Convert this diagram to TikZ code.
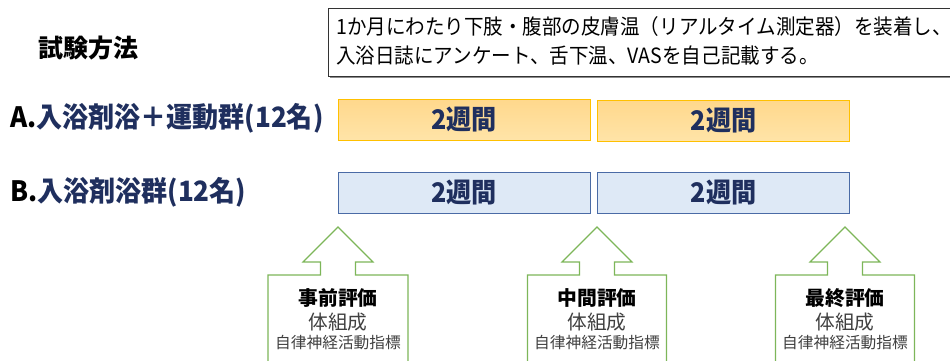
\documentclass[tikz,border=0pt]{standalone}
\usepackage{fontspec}
\setmainfont{Noto Sans CJK JP}
\newfontfamily\jpc[FakeStretch=0.93]{Noto Sans CJK JP}
\newfontfamily\jpcb[FakeStretch=0.93]{Noto Sans CJK JP}
\usetikzlibrary{positioning}
\definecolor{navy}{HTML}{1F2F5E}
\definecolor{orgline}{HTML}{FFC000}
\definecolor{orgtop}{HTML}{FFD88C}
\definecolor{orgbot}{HTML}{FFE4A8}
\definecolor{bluefill}{HTML}{DEE9F6}
\definecolor{blueline}{HTML}{4A6BA6}
\definecolor{grn}{HTML}{7DB659}
\definecolor{txtgray}{HTML}{404040}
\tikzset{
  obox/.style={draw=orgline, line width=1pt, top color=orgtop, bottom color=orgbot, minimum width=252pt, minimum height=41pt, inner sep=0pt, font=\jpcb\bfseries\fontsize{27}{29}\selectfont\color{navy}},
  bbox/.style={draw=blueline, line width=1pt, fill=bluefill, minimum width=252pt, minimum height=41pt, inner sep=0pt, font=\jpcb\bfseries\fontsize{27}{29}\selectfont\color{navy}},
  grplabel/.style={anchor=west, inner sep=0pt, font=\jpcb\bfseries\fontsize{28}{30}\selectfont},
  arr/.style={draw=grn, line width=1.1pt, fill=white},
  evt/.style={inner sep=0pt, font=\bfseries\fontsize{19.8}{21}\selectfont},
  evs/.style={inner sep=0pt, text=txtgray, font=\fontsize{19.7}{21}\selectfont},
  evx/.style={inner sep=0pt, text=txtgray, font=\fontsize{15.7}{17}\selectfont},
}
\begin{document}
\begin{tikzpicture}[x=1pt,y=-1pt]
\useasboundingbox (0,0) rectangle (950,360);
% title
\node[inner sep=0pt, font=\bfseries\fontsize{25}{27}\selectfont] (title) at (88,48) {試験方法};
% description box
\fill[black!45] (330,10) rectangle (952,78);
\draw[black!80, line width=0.8pt, fill=white] (328,8) rectangle (952,76);
\node[anchor=west, inner sep=0pt, font=\jpc\fontsize{21}{23}\selectfont] (d1) at (336,27) {1か月にわたり下肢・腹部の皮膚温（リアルタイム測定器）を装着し、};
\node[anchor=west, inner sep=0pt, font=\jpc\fontsize{21}{23}\selectfont] (d2) at (336,56) {入浴日誌にアンケート、舌下温、VASを自己記載する。};
% group labels
\node[grplabel] (la) at (10,118) {A.\textcolor{navy}{入浴剤浴＋運動群(12名)}};
\node[grplabel] (lb) at (10,192) {B.\textcolor{navy}{入浴剤浴群(12名)}};
% period boxes
\node[obox] (a1) at (464,119.5) {2週間};
\node[obox] (a2) at (723.5,121) {2週間};
\node[bbox] (b1) at (464,192.5) {2週間};
\node[bbox] (b2) at (723.5,192.5) {2週間};
% evaluation arrows
\foreach \cx/\bw/\nm in {338/70/pre, 597/69.5/mid, 845/69.5/fin}{
  \draw[arr] (\cx-\bw,361) -- (\cx-\bw,275) -- (\cx-17.5,275) -- (\cx-17.5,262) -- (\cx-35,262)
    -- (\cx,227) -- (\cx+35,262) -- (\cx+17.5,262) -- (\cx+17.5,275) -- (\cx+\bw,275) -- (\cx+\bw,361);
  \coordinate (\nm) at (\cx,0);
}
\node[evt] (pre1) at (338,298) {事前評価};
\node[evs] (pre2) at (338,322) {体組成};
\node[evx] (pre3) at (338,343) {自律神経活動指標};
\node[evt] (mid1) at (597,298) {中間評価};
\node[evs] (mid2) at (597,322) {体組成};
\node[evx] (mid3) at (597,343) {自律神経活動指標};
\node[evt] (fin1) at (845,298) {最終評価};
\node[evs] (fin2) at (845,322) {体組成};
\node[evx] (fin3) at (845,343) {自律神経活動指標};
\end{tikzpicture}
\end{document}
